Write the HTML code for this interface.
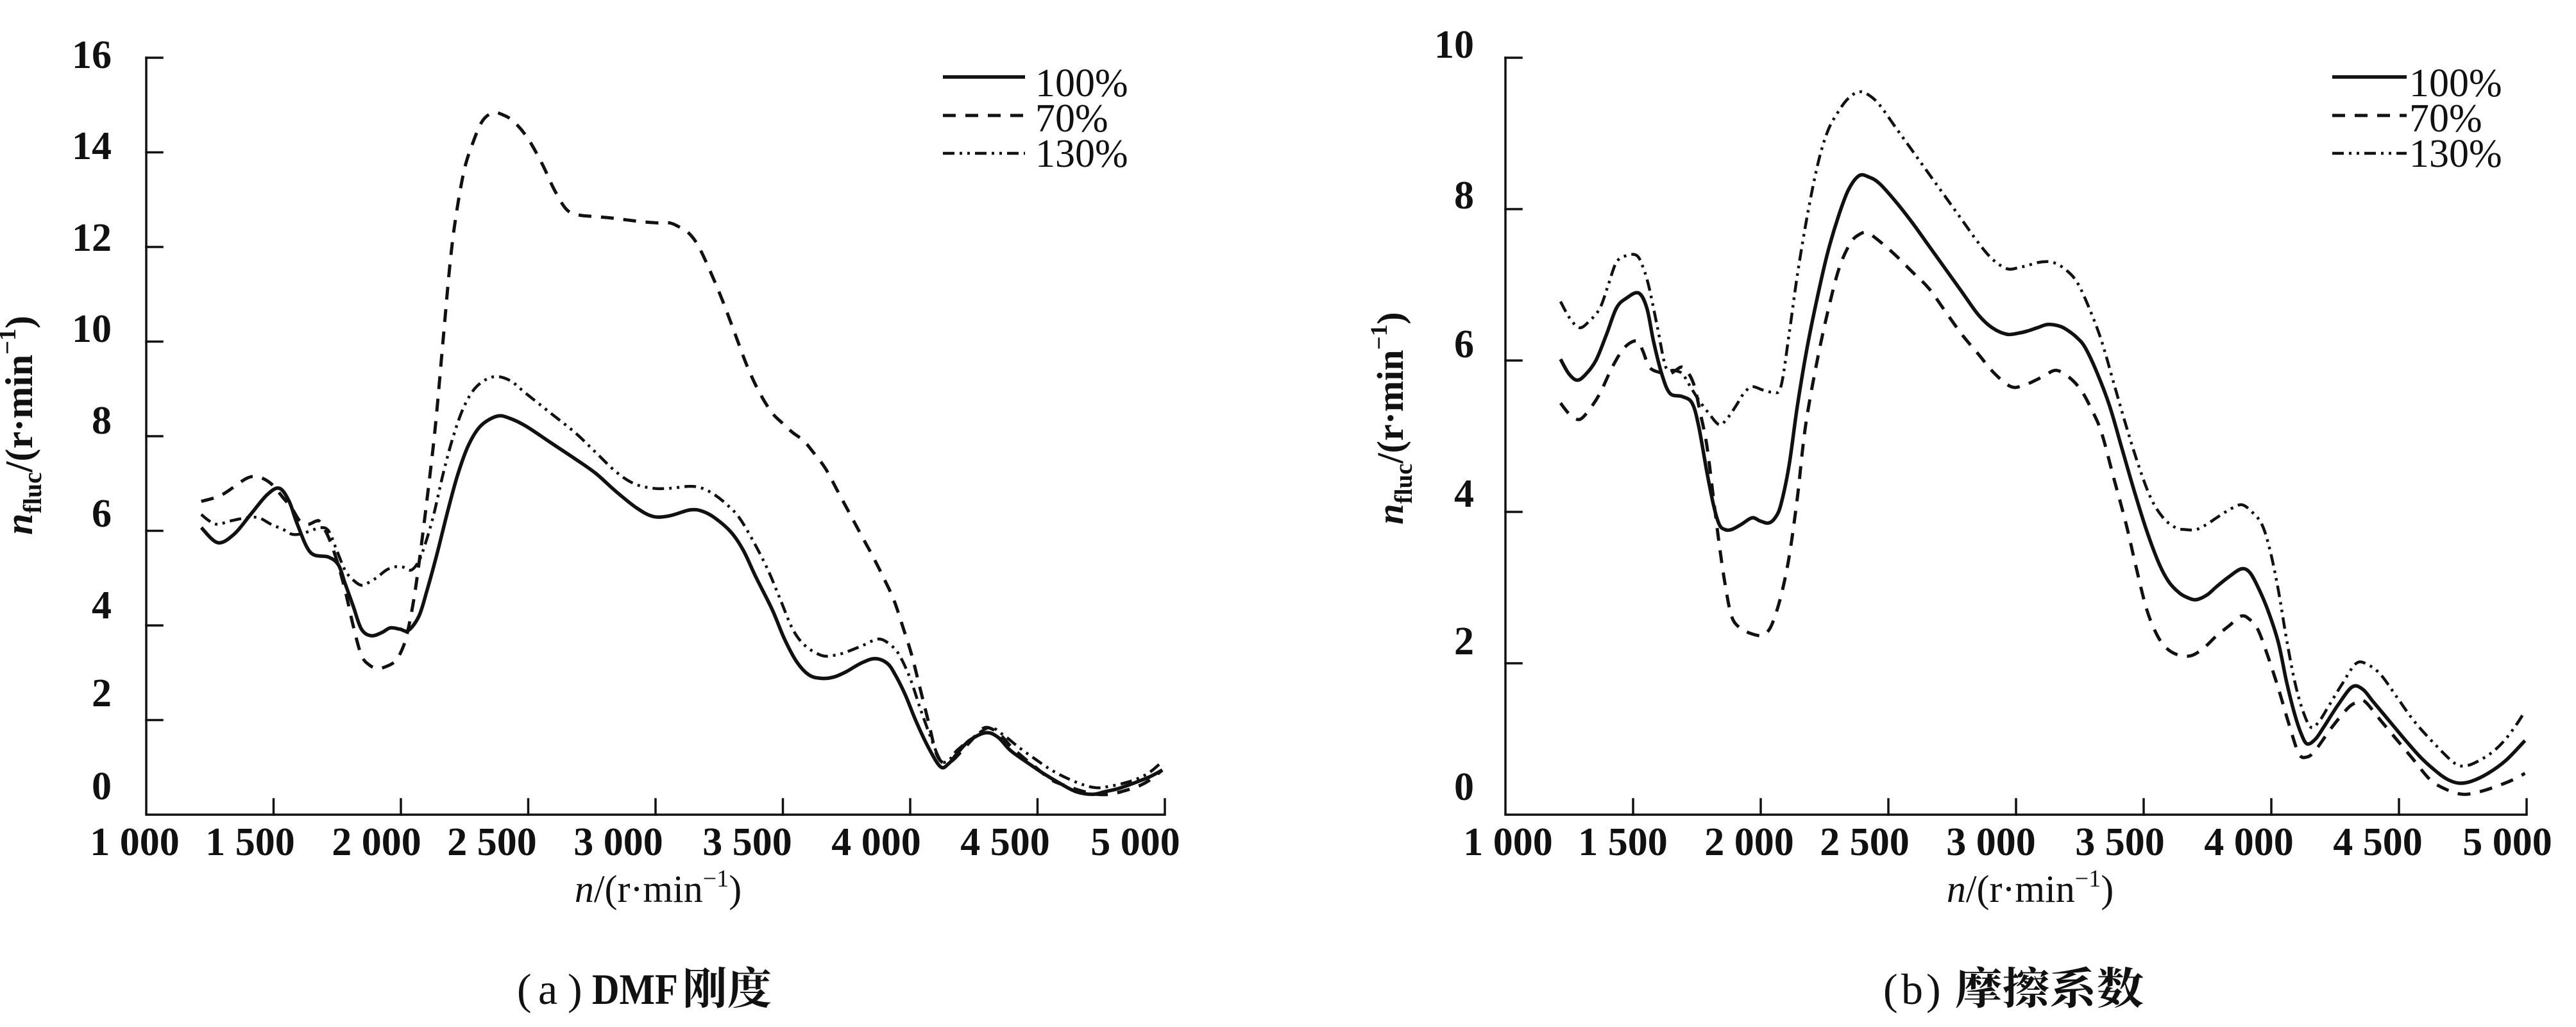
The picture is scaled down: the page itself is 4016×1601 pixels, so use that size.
<!DOCTYPE html>
<html>
<head>
<meta charset="utf-8">
<style>
html,body{margin:0;padding:0;background:#fff;width:4016px;height:1601px;overflow:hidden}
svg{display:block}
text{font-family:"Liberation Serif","Noto Serif CJK SC",serif;fill:#111}
.ax{stroke:#111;stroke-width:3.5;fill:none;stroke-linecap:square}
.tk{font-size:62px;font-weight:bold}
.lg{font-size:62px}
.c{fill:none;stroke:#111;stroke-linejoin:round;vector-effect:non-scaling-stroke}
.s{stroke-width:5.5}
.d{stroke-width:5;stroke-dasharray:20 15}
.dd{stroke-width:4.5;stroke-dasharray:18 8 4 8 4 8}
.ls{stroke:#111;fill:none}
</style>
</head>
<body>
<svg width="4016" height="1601" viewBox="0 0 4016 1601" xmlns="http://www.w3.org/2000/svg">
<rect x="0" y="0" width="4016" height="1601" fill="#fff"/>

<!-- ============ LEFT CHART ============ -->
<path class="ax" d="M228,90 V1270 H1816 V1246"/>
<path class="ax" d="M228,90 h25 M228,237.5 h25 M228,385 h25 M228,532.5 h25 M228,680 h25 M228,827.5 h25 M228,975 h25 M228,1122.5 h25
 M426.5,1270 v-24 M625,1270 v-24 M823.5,1270 v-24 M1022,1270 v-24 M1220.5,1270 v-24 M1419,1270 v-24 M1617.5,1270 v-24"/>

<g class="tk" text-anchor="end">
<text x="174" y="106">16</text>
<text x="174" y="248">14</text>
<text x="174" y="391">12</text>
<text x="174" y="533">10</text>
<text x="174" y="676">8</text>
<text x="174" y="821">6</text>
<text x="174" y="964">4</text>
<text x="174" y="1101">2</text>
<text x="174" y="1246">0</text>
</g>
<g class="tk" text-anchor="middle">
<text x="210" y="1333">1 000</text>
<text x="390" y="1333">1 500</text>
<text x="587" y="1333">2 000</text>
<text x="767" y="1333">2 500</text>
<text x="964" y="1333">3 000</text>
<text x="1165" y="1333">3 500</text>
<text x="1366" y="1333">4 000</text>
<text x="1567" y="1333">4 500</text>
<text x="1770" y="1333">5 000</text>
</g>

<text x="1026" y="1406" font-size="60" text-anchor="middle"><tspan font-style="italic">n</tspan>/(r·min<tspan font-size="38" dy="-24">−1</tspan><tspan dy="24">)</tspan></text>

<text transform="translate(50,663) rotate(-90)" font-size="60" font-weight="bold" text-anchor="middle"><tspan font-style="italic">n</tspan><tspan font-size="40" dy="14">fluc</tspan><tspan dy="-14">/(r·min</tspan><tspan font-size="38" dy="-26">−1</tspan><tspan dy="26">)</tspan></text>

<!-- legend left -->
<line class="ls" x1="1470" y1="120" x2="1598" y2="120" stroke-width="5.5"/>
<line class="ls" x1="1470" y1="180" x2="1598" y2="180" stroke-width="5" stroke-dasharray="20 15"/>
<line class="ls" x1="1470" y1="239" x2="1598" y2="239" stroke-width="4.5" stroke-dasharray="18 8 4 8 4 8"/>
<text class="lg" x="1614" y="150">100%</text>
<text class="lg" x="1614" y="205">70%</text>
<text class="lg" x="1614" y="260">130%</text>

<g transform="matrix(1.2806 0 0 1.0216 0.05 0.1)">
<polyline class="c s" points="245,805 265,828 285,815 305,785 325,755 340,745 352,765 362,800 378,843 400,850 412,862 420,890 430,925 440,960 452,970 465,965 475,958 487,960 497,962 510,940 520,900 532,845 545,780 557,725 570,680 585,650 605,635 620,638 640,650 670,675 700,700 725,722 750,750 775,775 795,788 815,787 840,778 855,780 870,790 890,812 905,840 920,880 940,930 955,975 970,1010 985,1030 1000,1035 1015,1033 1030,1025 1048,1012 1065,1005 1080,1012 1090,1030 1102,1060 1115,1100 1130,1140 1145,1170 1155,1165 1165,1150 1180,1130 1200,1118 1215,1125 1230,1145 1250,1163 1270,1180 1290,1195 1310,1208 1330,1212 1345,1208 1362,1203 1380,1195 1400,1185 1415,1175"/>
<polyline class="c d" points="245,765 270,755 300,730 315,728 330,738 345,760 355,775 365,795 375,800 385,795 390,797 400,820 410,855 420,900 430,955 440,1000 450,1015 460,1020 470,1017 480,1010 488,995 495,970 503,920 510,860 520,760 530,650 540,510 548,400 555,330 565,260 575,220 587,185 600,172 612,175 625,185 642,210 660,250 675,290 690,320 705,328 720,330 740,332 760,335 780,338 800,340 815,340 825,345 838,355 850,375 865,415 880,460 895,510 910,560 925,600 940,630 952,645 965,660 978,672 990,690 1005,715 1020,750 1035,785 1050,820 1063,850 1075,880 1088,915 1100,960 1110,1000 1120,1050 1130,1100 1140,1150 1150,1165 1160,1160 1175,1140 1190,1120 1200,1110 1215,1118 1230,1138 1245,1155 1260,1170 1280,1190 1300,1200 1320,1208 1335,1212 1350,1212 1365,1208 1385,1200 1400,1190 1415,1175"/>
<polyline class="c dd" points="245,785 255,795 265,800 280,795 300,790 315,790 330,800 345,808 355,815 365,815 378,810 390,805 400,810 410,840 420,870 430,885 440,893 450,888 460,880 470,870 480,865 490,865 500,870 508,860 515,840 527,790 540,720 552,665 565,620 580,590 600,575 620,580 640,600 670,630 700,660 725,690 750,720 772,738 795,745 815,745 840,742 855,745 870,755 885,770 900,790 918,828 935,870 950,915 965,960 980,985 1000,1000 1015,1000 1030,995 1050,985 1070,975 1085,985 1095,1000 1108,1035 1120,1080 1133,1125 1145,1160 1155,1160 1165,1145 1185,1125 1205,1110 1222,1122 1240,1140 1260,1158 1280,1175 1300,1188 1320,1198 1335,1202 1350,1200 1368,1195 1385,1188 1400,1178 1415,1162"/>
</g>

<!-- caption left -->
<text x="806" y="1565" font-size="68">(</text>
<text x="839" y="1565" font-size="68">a</text>
<text x="885" y="1565" font-size="68">)</text>
<text x="923" y="1565" font-size="68" font-weight="bold" textLength="134" lengthAdjust="spacingAndGlyphs">DMF</text>
<text x="1064" y="1565" font-size="68" font-weight="bold" font-family="'Noto Serif CJK SC',serif" textLength="139" lengthAdjust="spacingAndGlyphs">刚度</text>

<!-- ============ RIGHT CHART ============ -->
<path class="ax" d="M2347,90 V1270 H3939 V1246"/>
<path class="ax" d="M2347,90 h25 M2347,326 h25 M2347,562 h25 M2347,798 h25 M2347,1034 h25
 M2546,1270 v-24 M2745,1270 v-24 M2944,1270 v-24 M3143,1270 v-24 M3342,1270 v-24 M3541,1270 v-24 M3740,1270 v-24"/>

<g class="tk" text-anchor="end">
<text x="2298" y="90">10</text>
<text x="2298" y="325">8</text>
<text x="2298" y="557">6</text>
<text x="2298" y="790">4</text>
<text x="2298" y="1020">2</text>
<text x="2298" y="1247">0</text>
</g>
<g class="tk" text-anchor="middle">
<text x="2351" y="1333">1 000</text>
<text x="2530" y="1333">1 500</text>
<text x="2727" y="1333">2 000</text>
<text x="2907" y="1333">2 500</text>
<text x="3104" y="1333">3 000</text>
<text x="3305" y="1333">3 500</text>
<text x="3506" y="1333">4 000</text>
<text x="3707" y="1333">4 500</text>
<text x="3909" y="1333">5 000</text>
</g>

<text x="3165" y="1406" font-size="60" text-anchor="middle"><tspan font-style="italic">n</tspan>/(r·min<tspan font-size="38" dy="-24">−1</tspan><tspan dy="24">)</tspan></text>

<text transform="translate(2187,652) rotate(-90)" font-size="58" font-weight="bold" text-anchor="middle"><tspan font-style="italic">n</tspan><tspan font-size="39" dy="14">fluc</tspan><tspan dy="-14">/(r·min</tspan><tspan font-size="37" dy="-25">−1</tspan><tspan dy="25">)</tspan></text>

<!-- legend right -->
<line class="ls" x1="3636" y1="120" x2="3752" y2="120" stroke-width="5.5"/>
<line class="ls" x1="3636" y1="180" x2="3752" y2="180" stroke-width="5" stroke-dasharray="20 15"/>
<line class="ls" x1="3636" y1="239" x2="3752" y2="239" stroke-width="4.5" stroke-dasharray="18 8 4 8 4 8"/>
<text class="lg" x="3756" y="150">100%</text>
<text class="lg" x="3756" y="205">70%</text>
<text class="lg" x="3756" y="260">130%</text>

<g transform="matrix(1.2818 0 0 1.0216 2007.3 0.1)">
<polyline class="c s" points="332,548 342,570 352,580 362,572 375,550 388,510 400,470 412,455 427,447 437,470 445,520 455,570 465,600 480,605 492,615 500,650 510,720 518,770 525,800 532,808 540,808 552,800 565,790 575,795 585,798 593,790 600,770 610,710 620,620 632,530 645,450 657,385 670,330 682,290 695,268 707,270 720,280 740,308 760,340 780,375 800,410 820,445 840,480 857,500 875,510 890,508 900,505 912,500 925,495 940,498 950,505 960,515 970,530 985,570 1000,620 1015,685 1030,750 1045,810 1060,860 1072,888 1085,905 1095,912 1105,915 1118,908 1130,895 1145,880 1160,868 1170,873 1180,895 1192,930 1205,980 1215,1040 1225,1090 1233,1120 1240,1135 1250,1128 1260,1110 1278,1075 1295,1048 1308,1052 1320,1070 1340,1100 1360,1130 1380,1158 1400,1180 1412,1190 1425,1195 1440,1192 1460,1180 1482,1160 1505,1130"/>
<polyline class="c d" points="332,615 343,632 355,640 367,625 380,600 395,560 410,530 425,520 432,535 440,560 452,568 465,570 472,565 480,560 488,570 495,590 502,630 510,680 518,760 525,830 532,890 540,940 550,958 560,965 575,970 583,965 590,950 600,910 610,850 620,760 630,650 645,545 660,460 672,405 685,370 695,358 705,355 720,368 740,390 760,415 780,440 800,475 820,510 840,540 860,570 880,590 895,588 910,580 922,572 935,565 950,575 965,595 978,625 990,660 1005,730 1020,800 1032,865 1045,930 1058,970 1070,990 1085,1000 1100,1000 1115,988 1130,970 1145,955 1160,940 1170,945 1180,960 1192,1000 1205,1050 1218,1105 1230,1150 1240,1155 1250,1145 1270,1110 1290,1080 1300,1072 1310,1070 1330,1100 1350,1130 1370,1160 1390,1190 1410,1205 1430,1212 1450,1208 1470,1200 1490,1190 1505,1180"/>
<polyline class="c dd" points="332,460 343,485 355,500 367,490 380,470 390,435 400,400 412,390 425,390 433,410 440,440 450,500 460,560 470,565 480,570 490,590 500,610 512,630 525,648 535,638 545,620 555,600 565,590 578,595 590,598 600,590 610,510 620,420 632,330 645,250 657,200 670,170 682,150 695,140 707,145 720,160 740,195 760,230 780,265 800,300 820,335 840,370 857,395 875,410 890,408 900,405 915,400 930,400 945,410 960,430 975,470 990,520 1005,585 1020,650 1035,710 1050,760 1065,790 1080,805 1092,808 1105,808 1118,800 1130,790 1145,778 1160,770 1172,780 1185,800 1195,840 1205,900 1215,975 1225,1040 1235,1085 1245,1110 1255,1100 1265,1080 1282,1045 1300,1012 1315,1015 1330,1030 1350,1065 1370,1100 1395,1135 1420,1165 1435,1168 1450,1160 1465,1148 1480,1130 1495,1105 1505,1085"/>
</g>

<!-- caption right -->
<text x="2936" y="1565" font-size="68">(</text>
<text x="2964" y="1565" font-size="68">b</text>
<text x="3003" y="1565" font-size="68">)</text>
<text x="3048" y="1565" font-size="68" font-weight="bold" font-family="'Noto Serif CJK SC',serif" textLength="294" lengthAdjust="spacingAndGlyphs">摩擦系数</text>
</svg>
<script>
(function(){
  var NS="http://www.w3.org/2000/svg";
  var pls=document.querySelectorAll("polyline.c");
  for(var k=0;k<pls.length;k++){
    var pl=pls[k];
    var n=pl.getAttribute("points").trim().split(/[\s,]+/).map(Number);
    var p=[];
    for(var i=0;i+1<n.length;i+=2)p.push([n[i],n[i+1]]);
    if(p.length<3)continue;
    var d="M"+p[0][0]+","+p[0][1];
    for(var i=0;i<p.length-1;i++){
      var p0=p[i>0?i-1:i],p1=p[i],p2=p[i+1],p3=p[i+2<p.length?i+2:i+1];
      var c1x=p1[0]+(p2[0]-p0[0])/6,c1y=p1[1]+(p2[1]-p0[1])/6;
      var c2x=p2[0]-(p3[0]-p1[0])/6,c2y=p2[1]-(p3[1]-p1[1])/6;
      d+=" C"+c1x.toFixed(2)+","+c1y.toFixed(2)+" "+c2x.toFixed(2)+","+c2y.toFixed(2)+" "+p2[0]+","+p2[1];
    }
    var path=document.createElementNS(NS,"path");
    path.setAttribute("d",d);
    path.setAttribute("class",pl.getAttribute("class"));
    pl.parentNode.replaceChild(path,pl);
  }
})();
</script>
</body>
</html>
